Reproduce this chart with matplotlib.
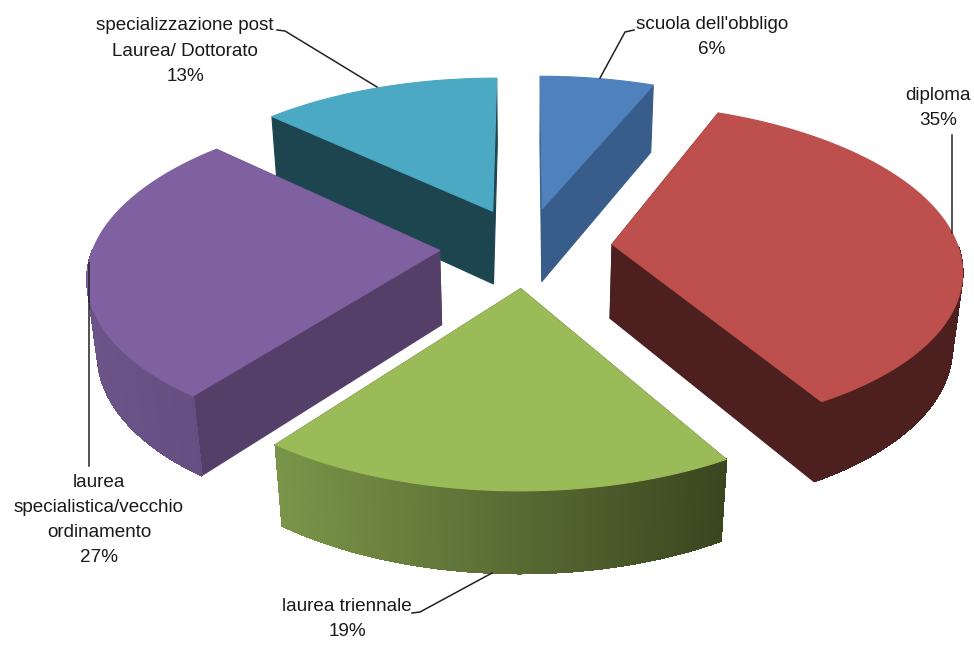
import numpy as np
import matplotlib
matplotlib.use('Agg')
import matplotlib.pyplot as plt
from matplotlib.colors import to_rgb
from matplotlib.patches import Polygon

# the slices, clockwise from the top
labels = ["scuola dell'obbligo", "diploma", "laurea triennale",
          "laurea\nspecialistica/vecchio\nordinamento", "specializzazione post\nLaurea/ Dottorato"]
# printed as whole percents, decimals
shares = [6.2, 35.4, 18.7, 26.7, 13.0]

top_colors = ['#4F81BD', '#BD4F4C', '#9BBB59', '#7F60A0', '#4BA9C3']
cut_colors = ['#385D8A', '#4D1F1E', '#3F4B22', '#533F68', '#1D4550']
wall_left = ['#385D8A', '#4D1F1E', '#7A9549', '#6B5488', '#1D4550']
wall_right = ['#385D8A', '#4D1F1E', '#3A461F', '#644E80', '#1D4550']

# pie geometry, in pixels
cx, cy = 526, 247
rx, ry = 346, 161
depth = 76
explode = 0.25
persp = 0.14
persp_z = 0.024


def project(x, y, z=0.0):
    w = 1 + persp * y + persp_z * z
    return cx + rx * x / w, cy - (ry * y - depth * z) / w


def rim(a0, a1, off, z=0.0, n=120):
    ang = np.linspace(a0, a1, n)
    px, py = project(off[0] + np.sin(ang), off[1] + np.cos(ang), z)
    return np.column_stack([px, py]), ang


def face(ax, p, color, aa=True):
    ax.add_patch(Polygon(p, closed=True, fc=color, ec=color, lw=0.8, antialiased=aa))


fig = plt.figure(figsize=(9.74, 6.46), dpi=100)
ax = fig.add_axes([0, 0, 1, 1])
ax.set_xlim(0, 974)
ax.set_ylim(646, 0)
ax.axis('off')

edges = np.radians(np.cumsum([0] + shares) * 3.6)

# back to front
for i in [0, 4, 3, 1, 2]:
    a0, a1 = edges[i], edges[i + 1]
    mid = (a0 + a1) / 2
    off = (explode * np.sin(mid), explode * np.cos(mid))
    apex_t = np.array(project(off[0], off[1], 0))
    apex_b = np.array(project(off[0], off[1], 1))

    top, ang = rim(a0, a1, off, 0)
    bot, _ = rim(a0, a1, off, 1)
    lo, hi = top[:, 0].min(), top[:, 0].max()
    c_l, c_r = np.array(to_rgb(wall_left[i])), np.array(to_rgb(wall_right[i]))

    # cut faces first, the rim facing us goes over them
    face(ax, [apex_t, top[0], bot[0], apex_b], cut_colors[i])
    face(ax, [apex_t, top[-1], bot[-1], apex_b], cut_colors[i])
    for j in range(len(top) - 1):
        if np.cos(ang[j]) > 0:
            continue
        t = ((top[j, 0] + top[j + 1, 0]) / 2 - lo) / (hi - lo)
        # no antialiasing here, it shows up as ribs between the strips
        face(ax, [top[j], top[j + 1], bot[j + 1], bot[j]], c_l + (c_r - c_l) * t, aa=False)

    face(ax, np.vstack([apex_t, top]), top_colors[i])

# leader lines
leaders = [
    ([600, 625, 634], [78, 32, 30]),
    ([952, 952], [233, 135]),
    ([492, 420, 412], [573, 612, 613]),
    ([89, 89], [263, 466]),
    ([377, 285, 277], [87, 31, 30]),
]
for lx, ly in leaders:
    ax.plot(lx, ly, color='#222222', lw=1.1, zorder=3)

# data labels
label_pos = [(712, 37), (938, 108), (347, 619), (99, 520), (185, 51)]
for name, val, (tx, ty) in zip(labels, shares, label_pos):
    ax.text(tx, ty, f"{name}\n{val:.0f}%", ha='center', va='center', ma='center',
            family='Liberation Sans', fontsize=13.6, color='#1a1a1a',
            linespacing=1.62, zorder=4)

fig.savefig('out.png', dpi=100, facecolor='white')
